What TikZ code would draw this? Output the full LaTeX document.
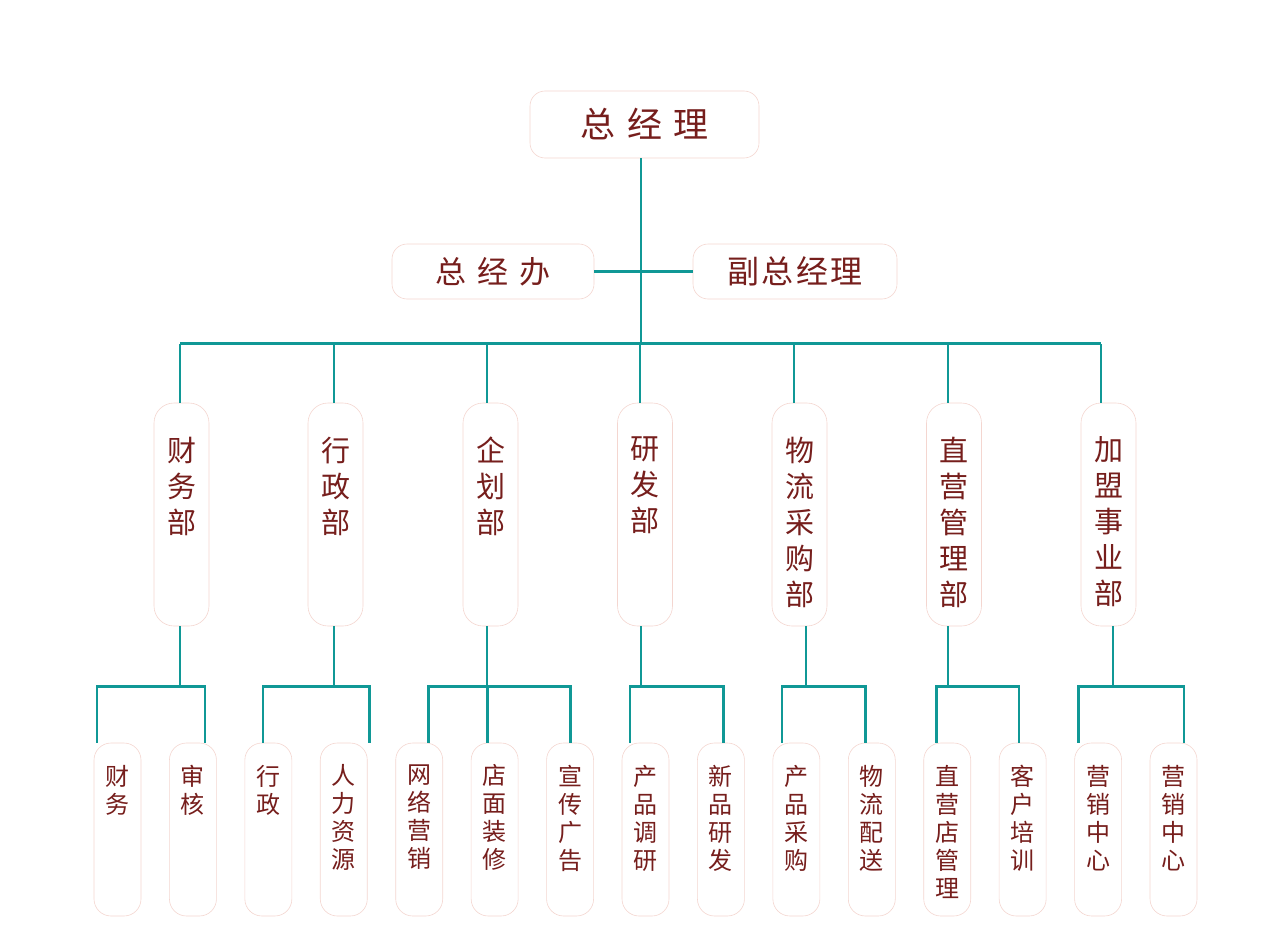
\documentclass[tikz,border=0pt]{standalone}
\usepackage{fontspec}
\setmainfont{Noto Sans CJK SC}
\usetikzlibrary{positioning,calc}
\definecolor{linkteal}{RGB}{16,152,150}
\definecolor{boxedge}{RGB}{244,214,208}
\definecolor{txtred}{RGB}{118,30,28}
\tikzset{
  box/.style={draw=boxedge, line width=0.6pt, fill=white, rounded corners=15pt, inner sep=0pt, text=txtred},
  deptbox/.style={box, rounded corners=20pt, minimum width=55pt, minimum height=223pt},
  subbox/.style={box, rounded corners=17pt, minimum width=47pt, minimum height=173pt},
  depttext/.style={inner sep=0pt, align=center, text=txtred, font=\fontsize{29}{36}\selectfont},
  subtext/.style={inner sep=0pt, align=center, text=txtred, font=\fontsize{24}{28}\selectfont},
  link/.style={draw=linkteal, line width=2.6pt}
}

\begin{document}
\begin{tikzpicture}[x=1pt,y=-1pt]
  \def\depty{514.5}
  \def\suby{829.5}
  \def\subgap{75.43}

  % Fixed bounding box
  \path[use as bounding box] (0,0) rectangle (1264,947);

  % Top level
  \node[box, minimum width=229pt, minimum height=67pt, font=\fontsize{35}{40}\selectfont] (gm) at (644.5,124.5) {总\hspace{0.33em}经\hspace{0.33em}理};
  \node[box, minimum width=202pt, minimum height=55pt, font=\fontsize{31}{36}\selectfont] (office) at (493,271.5) {总\hspace{0.34em}经\hspace{0.34em}办};
  \node[box, minimum width=204pt, minimum height=55pt, font=\fontsize{32}{36}\selectfont] (vgm) at (795,271.5) {副\hspace{0.08em}总\hspace{0.08em}经\hspace{0.08em}理};

  % Departments
  \foreach \i/\x/\name in {1/181.5/{财\\务\\部}, 2/335.5/{行\\政\\部}, 3/490.5/{企\\划\\部}, 4/645/{研\\发\\部}, 5/799.5/{物\\流\\采\\购\\部}, 6/954/{直\\营\\管\\理\\部}, 7/1108.5/{加\\盟\\事\\业\\部}} {
    \node[deptbox] (d\i) at (\x,\depty) {};
    \node[depttext, anchor=north] (dt\i) at ([yshift=-34pt]d\i.north) {\name};
  }

  % Sections
  \foreach \i/\name in {1/{财\\务}, 2/{审\\核}, 3/{行\\政}, 4/{人\\力\\资\\源}, 5/{网\\络\\营\\销}, 6/{店\\面\\装\\修}, 7/{宣\\传\\广\\告}, 8/{产\\品\\调\\研}, 9/{新\\品\\研\\发}, 10/{产\\品\\采\\购}, 11/{物\\流\\配\\送}, 12/{直\\营\\店\\管\\理}, 13/{客\\户\\培\\训}, 14/{营\\销\\中\\心}, 15/{营\\销\\中\\心}} {
    \pgfmathsetmacro{\bx}{117.5+(\i-1)*\subgap}
    \node[subbox] (s\i) at (\bx,\suby) {};
    \node[subtext, anchor=north] (st\i) at ([yshift=-22pt]s\i.north) {\name};
  }

  % Upper connectors
  \draw[link] (office.east) -- (vgm.west);
  \foreach \i/\o in {1/-1.5, 2/-1.5, 3/-3.5, 4/-5, 5/-5.5, 6/-6, 7/-7.5} {
    \draw[link] ([xshift=\o pt]d\i.north) -- ++(0,-59) coordinate (t\i);
  }
  \draw[link] (t1) -- (t7);
  \coordinate (gmx) at ([xshift=-3.5pt]gm.south);
  \draw[link] (gmx) -- (gmx |- t1);

  % Lower connectors
  \foreach \i/\o/\l/\lo/\r/\ro in {1/-1.5/1/-20.5/2/12, 2/-1.5/3/-5.5/4/25.5, 3/-3.5/5/9/7/0.5, 4/-4/8/-15.5/9/2.5, 5/6.5/10/-14.5/11/-6.5, 6/-6/12/-10.5/13/-3.5, 7/4.5/14/-19.5/15/10.5} {
    \draw[link] ([xshift=\o pt]d\i.south) -- ++(0,60) coordinate (j\i);
    \draw[link] ([xshift=\lo pt]s\l.north) |- (j\i) -| ([xshift=\ro pt]s\r.north);
  }
  \draw[link] ([xshift=-7pt]s6.north) -- ++(0,-57);

\end{tikzpicture}
\end{document}
